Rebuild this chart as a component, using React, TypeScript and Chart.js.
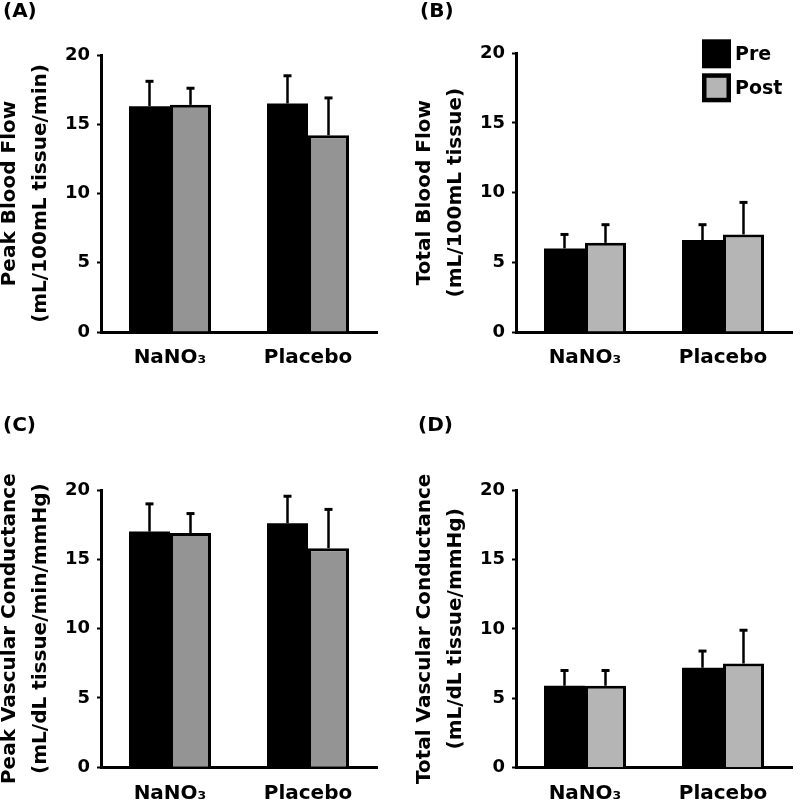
import React, { useEffect, useRef } from 'react';
import { Chart, registerables } from 'chart.js';

Chart.register(...registerables);

// ---------- data ----------
const categories = ['NaNO₃', 'Placebo'];
const seriesNames = ['Pre', 'Post'];
const yTickValues = [0, 5, 10, 15, 20];

// (A) Peak blood flow
const peakFlowPre = [16.3, 16.5];
const peakFlowPreErr = [1.8, 2.0];
const peakFlowPost = [16.4, 14.2];
const peakFlowPostErr = [1.2, 2.7];

// (B) Total blood flow
const totalFlowPre = [6.0, 6.6];
const totalFlowPreErr = [1.0, 1.1];
const totalFlowPost = [6.4, 7.0];
const totalFlowPostErr = [1.3, 2.3];

// (C) Peak vascular conductance
const peakCondPre = [17.0, 17.6];
const peakCondPreErr = [2.0, 1.95];
const peakCondPost = [16.9, 15.8];
const peakCondPostErr = [1.4, 2.8];

// (D) Total vascular conductance
const totalCondPre = [5.9, 7.2];
const totalCondPreErr = [1.1, 1.2];
const totalCondPost = [5.9, 7.5];
const totalCondPostErr = [1.1, 2.4];

const panelLabels = ['(A)', '(B)', '(C)', '(D)'];
const yTitles = [
  ['Peak Blood Flow', '(mL/100mL tissue/min)'],
  ['Total Blood Flow', '(mL/100mL tissue)'],
  ['Peak Vascular Conductance', '(mL/dL tissue/min/mmHg)'],
  ['Total Vascular Conductance', '(mL/dL tissue/mmHg)'],
];

// ---------- style ----------
const FONT = "'DejaVu Sans', 'Liberation Sans', sans-serif";
const PRE_COLOR = '#000000';
const POST_DARK = '#949494';
const POST_LIGHT = '#b5b5b5';

Chart.defaults.font.family = FONT;
Chart.defaults.color = '#000';

const errorBarPlugin = {
  id: 'errorBars',
  afterDatasetsDraw(chart: any) {
    const ctx = chart.ctx;
    const yScale = chart.scales.y;
    chart.data.datasets.forEach((ds: any, i: number) => {
      const errs = ds.errors;
      if (!errs) return;
      const meta = chart.getDatasetMeta(i);
      meta.data.forEach((bar: any, j: number) => {
        const top = yScale.getPixelForValue(ds.data[j] + errs[j]);
        ctx.save();
        ctx.strokeStyle = '#000';
        ctx.lineWidth = 2.5;
        ctx.beginPath();
        ctx.moveTo(bar.x, bar.y);
        ctx.lineTo(bar.x, top);
        ctx.stroke();
        ctx.lineWidth = 3;
        ctx.beginPath();
        ctx.moveTo(bar.x - 4, top);
        ctx.lineTo(bar.x + 4, top);
        ctx.stroke();
        ctx.restore();
      });
    });
  },
};

const cornerLegendPlugin = {
  id: 'cornerLegend',
  afterDraw(chart: any, _args: any, opts: any) {
    if (!opts || !opts.display) return;
    const { ctx, chartArea } = chart;
    const x0 = chartArea.right + opts.dx;
    const y0 = chartArea.top + opts.dy;
    chart.data.datasets.forEach((ds: any, i: number) => {
      const y = y0 + i * opts.step;
      const b = opts.border;
      ctx.save();
      ctx.fillStyle = ds.borderColor;
      ctx.fillRect(x0, y, opts.box, opts.box);
      ctx.fillStyle = ds.backgroundColor;
      ctx.fillRect(x0 + b, y + b, opts.box - 2 * b, opts.box - 2 * b);
      ctx.fillStyle = '#000';
      ctx.font = `bold ${opts.fontSize}px ${FONT}`;
      ctx.textBaseline = 'middle';
      ctx.textAlign = 'left';
      ctx.fillText(ds.label, x0 + opts.box + opts.gap, y + opts.box / 2 + 1);
      ctx.restore();
    });
  },
};

type Layout = {
  left: number; top: number; width: number; height: number;
  padLeft: number; padRight: number;
  titleTop: number; titleBottom: number;
  yWidth: number; yTitlePad: number; xHeight: number;
};

type PanelProps = {
  label: string;
  yTitle: string[];
  pre: number[]; preErr: number[];
  post: number[]; postErr: number[];
  postColor: string;
  legend: boolean;
  layout: Layout;
};

const GROUP_FRACTION = 82 / 138;

function Panel(p: PanelProps) {
  const ref = useRef<HTMLCanvasElement | null>(null);
  useEffect(() => {
    if (!ref.current) return;
    const L = p.layout;
    const common = {
      borderColor: '#000',
      categoryPercentage: GROUP_FRACTION,
      barPercentage: 1.0,
      inflateAmount: 0,
    };
    const chart = new Chart(ref.current, {
      type: 'bar',
      data: {
        labels: categories,
        datasets: [
          { ...common, borderWidth: 0, label: seriesNames[0], data: p.pre, errors: p.preErr, backgroundColor: PRE_COLOR } as any,
          { ...common, borderWidth: 3, label: seriesNames[1], data: p.post, errors: p.postErr, backgroundColor: p.postColor } as any,
        ],
      },
      options: {
        responsive: false,
        maintainAspectRatio: false,
        animation: false,
        layout: { padding: { left: L.padLeft, right: L.padRight, top: 0, bottom: 0 } },
        plugins: {
          legend: { display: false },
          tooltip: { enabled: false },
          title: {
            display: true,
            text: p.label,
            align: 'start',
            color: '#000',
            font: { size: 20, weight: 'bold', lineHeight: 1.2 },
            padding: { top: L.titleTop, bottom: L.titleBottom },
          },
          cornerLegend: {
            display: p.legend,
            dx: -90, dy: -14, step: 34, box: 29, border: 4.5, gap: 4, fontSize: 19,
          },
        } as any,
        scales: {
          x: {
            grid: { display: true, drawOnChartArea: false, drawTicks: false },
            border: { display: true, color: '#000', width: 3 },
            ticks: { color: '#000', font: { size: 20, weight: 'bold' }, padding: 14, maxRotation: 0 },
            afterFit: (s: any) => { s.height = L.xHeight; },
          },
          y: {
            min: yTickValues[0],
            max: yTickValues[yTickValues.length - 1],
            ticks: {
              stepSize: yTickValues[1] - yTickValues[0],
              color: '#000',
              font: { size: 18, weight: 'bold' },
              padding: 7,
            },
            grid: { display: true, drawOnChartArea: false, drawTicks: true, tickLength: 4, tickWidth: 2, color: '#000' },
            border: { display: true, color: '#000', width: 3 },
            title: {
              display: true,
              text: p.yTitle,
              color: '#000',
              font: { size: 20, weight: 'bold', lineHeight: 1.52 },
              padding: { top: L.yTitlePad, bottom: 0 },
            },
            afterFit: (s: any) => { s.width = L.yWidth; },
          },
        } as any,
      },
      plugins: [errorBarPlugin, cornerLegendPlugin],
    });
    return () => chart.destroy();
  }, []);
  const L = p.layout;
  return (
    <div style={{ position: 'absolute', left: L.left, top: L.top, width: L.width, height: L.height }}>
      <canvas ref={ref} width={L.width} height={L.height} style={{ width: L.width, height: L.height, display: 'block' }} />
    </div>
  );
}

const layoutA: Layout = { left: 0, top: 0, width: 400, height: 400, padLeft: 3, padRight: 23, titleTop: 0, titleBottom: 31, yWidth: 98, yTitlePad: -8, xHeight: 68 };
const layoutB: Layout = { left: 400, top: 0, width: 400, height: 400, padLeft: 20, padRight: 8, titleTop: 0, titleBottom: 29.3, yWidth: 96, yTitlePad: -10, xHeight: 68 };
const layoutC: Layout = { left: 0, top: 400, width: 400, height: 406, padLeft: 3, padRight: 23, titleTop: 13.5, titleBottom: 52.5, yWidth: 98, yTitlePad: -8, xHeight: 38.7 };
const layoutD: Layout = { left: 400, top: 400, width: 400, height: 406, padLeft: 18, padRight: 8, titleTop: 13.5, titleBottom: 52.5, yWidth: 98, yTitlePad: -8, xHeight: 38.3 };

export default function App() {
  return (
    <div style={{ position: 'absolute', left: 0, top: 0, width: 800, height: 806, background: '#fff', overflow: 'hidden' }}>
      <Panel label={panelLabels[0]} yTitle={yTitles[0]} pre={peakFlowPre} preErr={peakFlowPreErr} post={peakFlowPost} postErr={peakFlowPostErr} postColor={POST_DARK} legend={false} layout={layoutA} />
      <Panel label={panelLabels[1]} yTitle={yTitles[1]} pre={totalFlowPre} preErr={totalFlowPreErr} post={totalFlowPost} postErr={totalFlowPostErr} postColor={POST_LIGHT} legend={true} layout={layoutB} />
      <Panel label={panelLabels[2]} yTitle={yTitles[2]} pre={peakCondPre} preErr={peakCondPreErr} post={peakCondPost} postErr={peakCondPostErr} postColor={POST_DARK} legend={false} layout={layoutC} />
      <Panel label={panelLabels[3]} yTitle={yTitles[3]} pre={totalCondPre} preErr={totalCondPreErr} post={totalCondPost} postErr={totalCondPostErr} postColor={POST_LIGHT} legend={false} layout={layoutD} />
    </div>
  );
}
